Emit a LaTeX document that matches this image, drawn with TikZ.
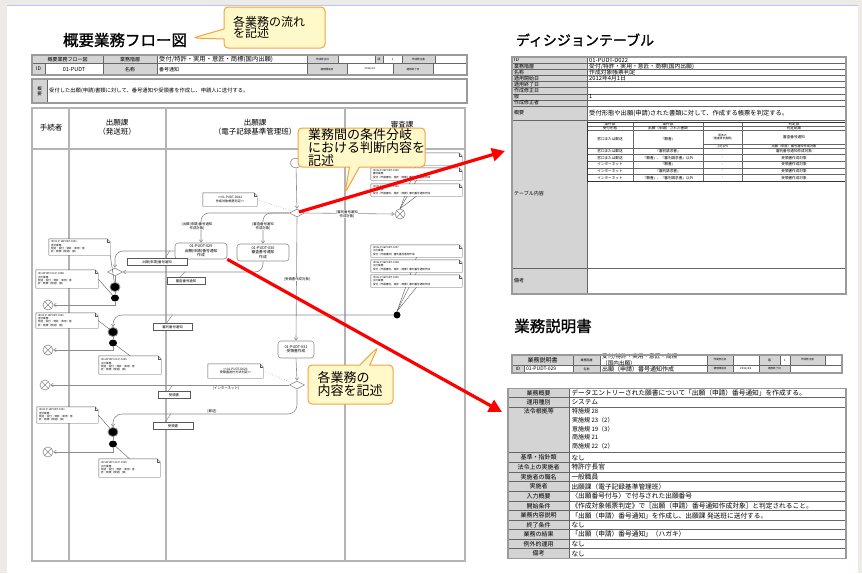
\documentclass[tikz,border=0pt]{standalone}
\usepackage{fontspec}
\setmainfont{Noto Sans CJK JP}
\newfontfamily\ttlfont{Noto Sans CJK JP}[FakeBold=1.2]
\usetikzlibrary{shapes.geometric,shapes.callouts,arrows.meta}
\definecolor{bgc}{HTML}{ECEBE6}
\definecolor{lanec}{HTML}{B4B4B4}
\definecolor{flowc}{HTML}{8C8C8C}
\definecolor{cellg}{HTML}{D4D4D4}
\definecolor{framec}{HTML}{9A9A9A}
\definecolor{calfill}{HTML}{FFF8C8}
\definecolor{caldraw}{HTML}{F5A243}
\definecolor{redc}{HTML}{FF0000}
\newcounter{cellno}
\newcommand\fsz[2]{\fontsize{#1}{#2}\selectfont}
\newcommand\ccell[7][]{\stepcounter{cellno}%
  \draw[cellline,fill=#6] (#2,#3) rectangle (#4,#5);%
  \node[ctext,#1] (cell\arabic{cellno}) at ({(#2+#4)/2},{(#3+#5)/2}) {#7};}
\newcommand\lcell[7][]{\stepcounter{cellno}%
  \draw[cellline,fill=#6] (#2,#3) rectangle (#4,#5);%
  \node[ltext,#1,anchor=west] (cell\arabic{cellno}) at ({#2+2},{(#3+#5)/2}) {#7};}
\newcommand\notefold[1]{%
  \draw[noteln] (#1.south west) -- (#1.north west) -- ([xshift=-3pt]#1.north east) -- ([yshift=-3pt]#1.north east) -- (#1.south east) -- cycle;
  \draw[noteln] ([xshift=-3pt]#1.north east) -- ([xshift=-3pt,yshift=-3pt]#1.north east) -- ([yshift=-3pt]#1.north east);}
\newcommand\drow[4]{\lcell[font=\fsz{5}{5.5}]{512}{#1}{587}{#2}{cellg}{#3}\lcell[font=\fsz{5.8}{6}]{587}{#1}{846}{#2}{white}{#4}}
\newcommand\brow[4]{\ccell[font=\fsz{6}{6.5}]{508}{#1}{569.3}{#2}{cellg}{#3}\lcell[font=\fsz{6.7}{7}]{569.3}{#1}{846}{#2}{white}{#4}}
\newcommand\irow[6]{\ccell{587}{#1}{633}{#2}{white}{#3}\ccell{633}{#1}{703}{#2}{white}{#4}\ccell{703}{#1}{742}{#2}{white}{#5}\ccell{742}{#1}{846}{#2}{white}{#6}}
\pgfdeclarelayer{back}\pgfdeclarelayer{links}\pgfsetlayers{back,links,main}
\begin{document}
\begin{tikzpicture}[x=1pt,y=-1pt,
  lane/.style={draw=lanec,line width=1.3pt},
  frame/.style={draw=framec,line width=1.2pt},
  cellline/.style={draw=black!60,line width=0.45pt},
  ctext/.style={inner sep=0pt,align=center,font=\fsz{3.6}{4}},
  ltext/.style={inner sep=0pt,align=left,font=\fsz{5}{5.6}},
  flow/.style={draw=flowc,line width=0.6pt,-{Straight Barb[length=2.5pt,width=3.5pt]}},
  plain/.style={draw=flowc,line width=0.5pt},
  task/.style={draw=flowc,line width=0.6pt,rounded corners=3pt,fill=white,inner sep=0.5pt,align=center,font=\fsz{3.8}{4.5}},
  notebox/.style={fill=white,inner sep=1pt,align=left,font=\fsz{2.6}{3.2}},
  noteln/.style={draw=black!65,line width=0.4pt},
  doc/.style={draw=black!65,line width=0.45pt,fill=white,inner sep=0.5pt,font=\fsz{3.4}{4}},
  dia/.style={diamond,draw=flowc,line width=0.6pt,fill=white,minimum width=15pt,minimum height=8pt,inner sep=0pt},
  xend/.style={circle,draw=flowc,line width=0.6pt,fill=white,minimum size=10pt,inner sep=0pt,
    path picture={\draw[flowc,line width=0.6pt] (path picture bounding box.north west) -- (path picture bounding box.south east) (path picture bounding box.south west) -- (path picture bounding box.north east);}},
  bigdot/.style={ellipse,fill=black,draw=black!45,line width=0.8pt,minimum width=10pt,minimum height=9pt,inner sep=0pt},
  smalldot/.style={ellipse,fill=black,minimum width=8pt,minimum height=7pt,inner sep=0pt},
  lbl/.style={fill=white,inner sep=0.4pt,align=center,font=\fsz{3.4}{4}},
  callout/.style={rectangle callout,draw=caldraw,line width=1pt,fill=calfill,rounded corners=4pt,inner sep=0pt,align=left,callout pointer width=10pt},
  redarrow/.style={draw=redc,line width=3.2pt,-{Triangle[length=13pt,width=13pt]}}
]
\useasboundingbox (0,0) rectangle (862,573);
\begin{pgfonlayer}{back}
\fill[bgc] (0,0) rectangle (862,573);
\fill[white] (7,6) rectangle (858,573);
\draw[blue!25,line width=0.6pt] (7,5.5) -- (858,5.5);
\end{pgfonlayer}

% ---------- titles ----------
\node[font=\ttlfont\fsz{15.5}{17},inner sep=0pt] (t1) at (125,40) {概要業務フロー図};
\node[font=\ttlfont\fsz{14}{16},inner sep=0pt] (t2) at (585,40) {ディシジョンテーブル};
\node[font=\ttlfont\fsz{15.5}{17},inner sep=0pt] (t3) at (553,326) {業務説明書};

% ---------- header table (flow) ----------
\ccell[font=\fsz{5}{5.5}]{32}{55}{103}{63.3}{cellg}{概要業務フロー図}
\ccell[font=\fsz{5}{5.5}]{103}{55}{157}{63.3}{cellg}{業務階層}
\lcell[font=\fsz{6.3}{6.5}]{157}{55}{307}{63.3}{white}{受付/特許・実用・意匠・商標(国内出願)}
\ccell[font=\fsz{2.6}{3}]{307}{55}{338}{63.3}{cellg}{作成修正日}
\ccell{338}{55}{375}{63.3}{white}{}
\ccell[font=\fsz{3}{3}]{375}{55}{383}{63.3}{cellg}{版}
\ccell[font=\fsz{3}{3}]{383}{55}{402}{63.3}{white}{1}
\ccell[font=\fsz{2.6}{3}]{402}{55}{435}{63.3}{cellg}{作成修正者}
\ccell{435}{55}{467}{63.3}{white}{}
\ccell[font=\fsz{5}{5.5}]{32}{63.3}{45}{75}{cellg}{ID}
\ccell[font=\fsz{5.5}{6}]{45}{63.3}{103}{75}{white}{01-PUDT}
\ccell[font=\fsz{5}{5.5}]{103}{63.3}{157}{75}{cellg}{名称}
\lcell[font=\fsz{5}{5.5}]{157}{63.3}{307}{75}{white}{番号通知}
\ccell[font=\fsz{2.6}{3}]{307}{63.3}{347}{75}{cellg}{適用開始日}
\ccell[font=\fsz{2.6}{3}]{347}{63.3}{393}{75}{white}{2012/4/1}
\ccell[font=\fsz{2.6}{3}]{393}{63.3}{433}{75}{cellg}{適用終了日}
\ccell{433}{63.3}{467}{75}{white}{}
\draw[frame] (32,55) rectangle (467,75);
\ccell[font=\fsz{4.5}{4.8}]{32}{79}{47}{103}{cellg}{概\\要}
\lcell[font=\fsz{5.3}{6}]{47}{79}{467}{103}{white}{受付した出願(申請)書類に対して、番号通知や受領書を作成し、申請人に送付する。}
\draw[frame] (32,79) rectangle (467,103);

% ---------- swimlanes ----------
\draw[lane] (32,108) rectangle (465,561);
\draw[lane] (32,149) -- (465,149);
\draw[lane] (69,108) -- (69,561);
\draw[lane] (166,108) -- (166,561);
\draw[lane] (345,108) -- (345,561);
\node[font=\fsz{7.5}{8.5}] (h1) at (51,128) {手続者};
\node[font=\fsz{7.5}{8.5},align=center] (h2) at (117,127) {出願課\\（発送班）};
\node[font=\fsz{7.5}{8.5},align=center] (h3) at (255,127) {出願課\\（電子記録基準管理班）};
\node[font=\fsz{7.5}{8.5}] (h4) at (402,125) {審査課};

% ---------- main flow ----------
\node[ellipse,draw=flowc,line width=0.6pt,fill=white,minimum width=12pt,minimum height=9pt] (st) at (296,163) {};
\node[dia] (D1) at (297,213) {};
\node[notebox,minimum width=54pt,minimum height=13pt,align=center,font=\fsz{3.1}{3.8}] (nD1) at (230,199.5) {<{}<01-PUDT-D022\\作成対象帳票判定>{}>};
\notefold{nD1}
\draw[plain,dotted] (nD1.east) -- (D1);
\node[task,minimum width=52pt,minimum height=16pt] (A) at (201,251) {01-PUDT-029\\出願(申請)番号通知\\作成};
\node[task,minimum width=52pt,minimum height=17pt] (B) at (263,252.5) {01-PUDT-030\\審査番号通知\\作成};
\node[task,minimum width=36pt,minimum height=17pt] (C) at (296,349.5) {01-PUDT-031\\受領書作成};
\node[xend] (XS) at (400,214) {};
\draw[flow] (st) -- (D1);
\draw[flow,rounded corners=8pt] (D1.west) -| (A.north);
\draw[flow,rounded corners=8pt] (D1.west) -| (B.north);
\draw[flow] (D1.south) -- (C.north);
\draw[flow] (D1.east) -- (XS.west);
\node[lbl] (lA) at (197,226) {[出願(申請)番号通知\\作成対象]};
\node[lbl] (lB) at (263,226) {[審査番号通知\\作成対象]};
\node[lbl] (lC) at (297,279) {[受領書作成対象]};
\node[lbl] (lS) at (347,214) {[審判番号通知\\作成対象]};

\node[dia] (D2) at (297,385) {};
\draw[flow] (C.south) -- (D2.north);
\node[notebox,minimum width=55pt,minimum height=14pt,align=center,font=\fsz{3.1}{3.8}] (nD2) at (235.5,371) {<{}<01-PUDT-D023\\受領書送付方法判定>{}>};
\notefold{nD2}
\draw[plain,dotted] (nD2.east) -- (D2);
\node[xend] (XI) at (45,385) {};
\draw[flow] (D2.west) -- (XI.east);
\node[font=\fsz{3.4}{4},inner sep=0.5pt] (lI) at (226,388.7) {[インターネット]};

% section 1
\node[dia] (M) at (115,272) {};
\node[bigdot] (E1) at (115,287) {};
\node[smalldot] (E2) at (115,298) {};
\node[xend] (X1) at (48,305) {};
\draw[flow,rounded corners=8pt] (A.west) -| (M.north);
\draw[flow,rounded corners=8pt] (B.south) |- (M.east);
\draw[plain] (M.south) -- (E1.north);
\draw[plain] (E1) -- (E2);
\draw[flow] (E2.south) |- (X1.east);

% section 2
\node[circle,fill=black,minimum size=7pt,inner sep=0pt] (S) at (397,315) {};
\node[bigdot] (E3) at (113,332) {};
\node[smalldot] (E4) at (113,343) {};
\node[xend] (X2) at (48,350) {};
\draw[flow,rounded corners=9pt] (S.west) -| (E3.north);
\draw[plain] (E3) -- (E4);
\draw[flow] (E4.south) |- (X2.east);

% section 3
\coordinate (k3) at (113,414);
\node[bigdot] (E5) at (113,432) {};
\node[smalldot] (E6) at (113,444) {};
\node[xend] (X3) at (48,452) {};
\draw[flow,rounded corners=9pt] (D2.south) |- (k3) -- (E5.north);
\node[font=\fsz{3.4}{4},inner sep=0.5pt] (lY) at (212,411) {[郵送]};
\draw[plain] (E5) -- (E6);
\draw[flow] (E6.south) |- (X3.east);

% documents
\node[doc,minimum width=60pt,minimum height=7pt] (docA) at (157,262) {出願(申請)番号通知};
\draw[plain] ([xshift=8pt]docA.north) -- ++(5,-7.5);
\node[doc,minimum width=38pt,minimum height=7pt] (docB) at (186,281) {審査番号通知};
\draw[plain] ([xshift=-6pt]docB.north) -- ++(5,-5.5);
\node[doc,minimum width=39pt,minimum height=7pt] (docS) at (172.5,327) {審判番号通知};
\draw[plain] ([xshift=-6pt]docS.north) -- ++(6,-8.5);
\node[doc,minimum width=32pt,minimum height=7pt] (docR1) at (174,395) {受領書};
\draw[plain] ([xshift=-6pt]docR1.north) -- ++(5,-6.5);
\node[doc,minimum width=40pt,minimum height=7pt] (docR2) at (173,426) {受領書};
\draw[plain] ([xshift=-8pt]docR2.north) -- ++(6,-8.5);

% notes in dispatch lane
\node[notebox,minimum width=61pt,minimum height=16pt,text width=57pt] (N1) at (79.5,247) {ID:03-P-14PUDT-C001\\送付業務\\発送・受付・特許・実用・意\\匠・商標（発送）(依)};
\notefold{N1}
\node[notebox,minimum width=62pt,minimum height=18pt,text width=58pt] (N2) at (67,279) {ID:14PUDT-03-P-C008\\出力業務\\発送・受付・特許・実用・意\\匠・商標（発送）(依)};
\notefold{N2}
\node[notebox,minimum width=62pt,minimum height=15pt,text width=58pt] (N3) at (67,320.5) {ID:03-P-14PUDT-C001\\送付業務\\発送・受付・特許・実用・意\\匠・商標（発送）(依)};
\notefold{N3}
\node[notebox,minimum width=62pt,minimum height=18pt,text width=58pt] (N4) at (130,365) {ID:14PUDT-03-P-C009\\出力業務\\発送・受付・特許・実用・意\\匠・商標（発送）(依)};
\notefold{N4}
\node[notebox,minimum width=61pt,minimum height=16pt,text width=57pt] (N5) at (67.5,415) {ID:03-P-14PUDT-C001\\送付業務\\発送・受付・特許・実用・意\\匠・商標（発送）(依)};
\notefold{N5}
\node[notebox,minimum width=61pt,minimum height=18pt,text width=57pt] (N6) at (129.5,468) {ID:14PUDT-03-P-C009\\出力業務\\発送・受付・特許・実用・意\\匠・商標（発送）(依)};
\notefold{N6}
\draw[noteln] (N1.south east) -- (E1);
\draw[noteln] (N2.east) -- (E2);
\draw[noteln] (N3.east) -- (E3);
\draw[noteln] (N4.north) -- (E4);
\draw[noteln] (N5.east) -- (E5);
\draw[noteln] (N6.north) -- (E6);

% notes in examination lane
\node[notebox,minimum width=91pt,minimum height=12pt,text width=87pt] (T1) at (416.5,159) {ID:06-P-06PUDT-C004\\審判業務\\受付（不服審判）審判番号通知作成};
\notefold{T1}
\node[notebox,minimum width=91pt,minimum height=12pt,text width=87pt] (T2) at (416.5,174) {ID:06-P-06PUDT-C005\\審判業務\\受付（不服審判、意匠・商標）審判番号通知作成};
\notefold{T2}
\node[notebox,minimum width=91pt,minimum height=12pt,text width=87pt] (T3) at (416.5,190) {ID:06-P-06PUDT-C006\\審判業務\\受付（不服審判、意匠・商標）審判番号通知作成};
\notefold{T3}
\node[notebox,minimum width=91pt,minimum height=12pt,text width=87pt] (B1) at (416.5,251) {ID:06-P-06PUDT-C007\\出力業務\\受付（不服審判）審判番号通知作成};
\notefold{B1}
\node[notebox,minimum width=91pt,minimum height=12pt,text width=87pt] (B2) at (416.5,266) {ID:06-P-06PUDT-C008\\出力業務\\受付（不服審判、意匠・商標）審判番号通知作成};
\notefold{B2}
\node[notebox,minimum width=91pt,minimum height=12pt,text width=87pt] (B3) at (416.5,281) {ID:06-P-06PUDT-C009\\出力業務\\受付（不服審判、意匠・商標）審判番号通知作成};
\notefold{B3}
\begin{pgfonlayer}{links}
\draw[noteln] (T1.south) -- (XS.north);
\draw[noteln] (T2.south) -- (XS.north);
\draw[noteln] (T3.south) -- (XS.north);
\draw[noteln] (B1.south) -- (S.north);
\draw[noteln] (B2.south) -- (S.north);
\draw[noteln] (B3.south) -- (S.north);
\end{pgfonlayer}

% ---------- decision table ----------
\drow{57}{63.1}{ID}{01-PUDT-D022}
\drow{63.1}{69.3}{業務階層}{受付/特許・実用・意匠・商標(国内出願)}
\drow{69.3}{75.4}{名称}{作成対象帳票判定}
\drow{75.4}{81.5}{適用開始日}{2012年4月1日}
\drow{81.5}{87.6}{適用終了日}{}
\drow{87.6}{93.8}{作成修正日}{}
\drow{93.8}{99.9}{版}{1}
\drow{99.9}{106}{作成修正者}{}
\lcell[font=\fsz{5}{5.5}]{512}{106}{587}{120}{cellg}{概要}
\lcell[font=\fsz{6.3}{7}]{587}{106}{846}{120}{white}{受付形態や出願(申請)された書類に対して、作成する帳票を判定する。}
\lcell[font=\fsz{5}{5.5}]{512}{120}{587}{268}{cellg}{テーブル内容}
\lcell{587}{120}{846}{268}{white}{}
\lcell[font=\fsz{5}{5.5}]{512}{268}{587}{294}{cellg}{備考}
\lcell{587}{268}{846}{294}{white}{}
\irow{122}{126}{条件部}{条件部}{}{判定部}
\irow{126}{130}{受付形態}{出願（申請）された書類}{}{判定結果}
\ccell{587}{130}{633}{148}{white}{窓口または郵送}
\ccell{633}{130}{703}{148}{white}{『願書』}
\ccell[font=\fsz{2.8}{3.3}]{703}{130}{742}{144}{white}{原本の\\『審査請求書類』}
\ccell[font=\fsz{2.8}{3.3}]{703}{144}{742}{148}{white}{上記以外}
\ccell{742}{130}{846}{144}{white}{審査番号通知}
\ccell[font=\fsz{3.2}{3.5}]{742}{144}{846}{148}{white}{出願（申請）番号通知作成対象}
\irow{148}{154.6}{窓口または郵送}{『審判請求書』}{-}{審判番号通知作成対象}
\irow{154.6}{161.2}{窓口または郵送}{『願書』、『審判請求書』以外}{-}{受領書作成対象}
\irow{161.2}{167.8}{インターネット}{『願書』}{-}{受領書作成対象}
\irow{167.8}{174.4}{インターネット}{『審判請求書』}{-}{受領書作成対象}
\irow{174.4}{181}{インターネット}{『願書』、『審判請求書』以外}{-}{受領書作成対象}
\draw[black!80,line width=0.7pt] (587,122) rectangle (846,181);
\draw[frame] (512,57) rectangle (846,294);

% ---------- business description header ----------
\ccell[font=\fsz{6}{6.5}]{512}{355}{573}{365}{cellg}{業務説明書}
\ccell[font=\fsz{3}{3.5}]{573}{355}{600}{365}{cellg}{業務階層}
\lcell[font=\fsz{5.6}{5.2}]{600}{355}{707}{365}{white}{受付/特許・実用・意匠・商標\\（国内出願）}
\ccell[font=\fsz{2.6}{3}]{707}{355}{733}{365}{cellg}{作成修正日}
\ccell{733}{355}{759}{365}{white}{}
\ccell[font=\fsz{3}{3.5}]{759}{355}{780}{365}{cellg}{版}
\ccell[font=\fsz{3}{3.5}]{780}{355}{790}{365}{white}{1}
\ccell[font=\fsz{2.6}{3}]{790}{355}{825}{365}{cellg}{作成修正者}
\ccell{825}{355}{842}{365}{white}{}
\ccell[font=\fsz{4.5}{5}]{512}{365}{524}{373}{cellg}{ID}
\lcell[font=\fsz{5}{5.5}]{524}{365}{573}{373}{white}{01-PUDT-029}
\ccell[font=\fsz{3}{3.5}]{573}{365}{600}{373}{cellg}{名称}
\lcell[font=\fsz{6}{6.5}]{600}{365}{707}{373}{white}{出願（申請）番号通知作成}
\ccell[font=\fsz{2.6}{3}]{707}{365}{733}{373}{cellg}{適用開始日}
\ccell[font=\fsz{2.8}{3}]{733}{365}{759}{373}{white}{2012/4/1}
\ccell[font=\fsz{2.6}{3}]{759}{365}{790}{373}{cellg}{適用終了日}
\ccell{790}{365}{842}{373}{white}{}
\draw[frame] (512,355) rectangle (842,373);

% ---------- business description table ----------
\brow{388.3}{397.7}{業務概要}{データエントリーされた願書について「出願（申請）番号通知」を作成する。}
\brow{397.7}{407}{運用種別}{システム}
\draw[cellline,fill=cellg] (508,407) rectangle (569.3,452.7);
\node[ctext,font=\fsz{6}{6.5},anchor=north] (hl1) at (538.8,408.5) {法令根拠等};
\draw[cellline,fill=white] (569.3,407) rectangle (846,452.7);
\node[ltext,font=\fsz{6}{8.7},anchor=north west] (hl2) at (572,408.5) {特施規 28\\実施規 23（2）\\意施規 19（3）\\商施規 21\\商施規 22（2）};
\brow{452.7}{462.3}{基準・指針類}{なし}
\brow{462.3}{472}{法令上の実施者}{特許庁長官}
\brow{472}{481.7}{実施者の職名}{一般職員}
\brow{481.7}{491.3}{実施者}{出願課（電子記録基準管理班）}
\brow{491.3}{501}{入力概要}{〈出願番号付与〉で付与された出願番号}
\brow{501}{510.7}{開始条件}{《作成対象帳票判定》で［出願（申請）番号通知作成対象］と判定されること。}
\brow{510.7}{520.3}{業務内容説明}{「出願（申請）番号通知」を作成し、出願課 発送班に送付する。}
\brow{520.3}{529.7}{終了条件}{なし}
\brow{529.7}{539}{業務の結果}{「出願（申請）番号通知」（ハガキ）}
\brow{539}{548.7}{例外的運用}{なし}
\brow{548.7}{558.3}{備考}{なし}
\draw[frame] (508,388.3) rectangle (846,558.3);

% ---------- callouts ----------
\node[callout,minimum width=101pt,minimum height=41pt,text width=83pt,callout absolute pointer={(193,38)},font=\fsz{12}{11.5}] (c1) at (274.5,27.5) {各業務の流れ\\を記述};
\node[callout,minimum width=127pt,minimum height=39pt,text width=107pt,callout absolute pointer={(345,193)},font=\fsz{13}{12}] (c2) at (361.5,147.5) {業務間の条件分岐\\における判断内容を\\記述};
\node[callout,minimum width=85pt,minimum height=39pt,text width=66pt,callout absolute pointer={(378,347)},font=\fsz{13}{12}] (c3) at (350.5,384.5) {各業務の\\内容を記述};

% ---------- red arrows ----------
\coordinate (dtin) at (505,151);
\coordinate (bsin) at (502,412);
\draw[redarrow] ([xshift=2pt,yshift=1pt]D1.center) -- (dtin);
\draw[redarrow] (A.south east) -- (bsin);
\end{tikzpicture}
\end{document}
